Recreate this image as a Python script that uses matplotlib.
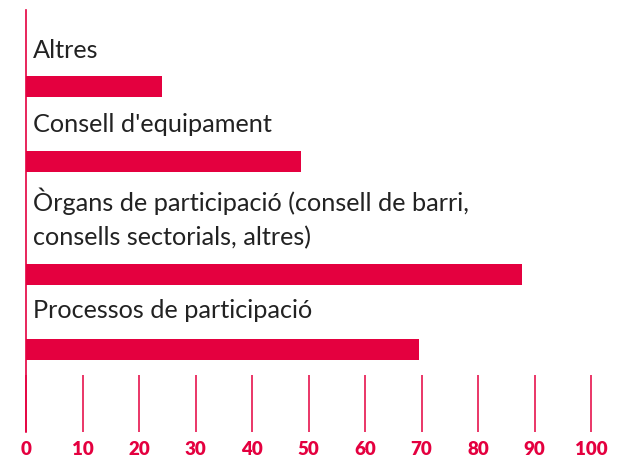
import matplotlib.pyplot as plt

plt.rcParams['font.family'] = ['Lato', 'DejaVu Sans']

labels = ["Altres", "Consell d'equipament",
          "Òrgans de participació (consell de barri,\nconsells sectorials, altres)",
          "Processos de participació"]
values = [24.1, 48.7, 87.8, 69.6]
ticks = [0, 10, 20, 30, 40, 50, 60, 70, 80, 90, 100]

red = '#e4003f'
text_col = '#222222'

# layout: bar centres / label positions (pixel rows from top of the axis line)
bar_y = [76.5, 151.5, 264.5, 339.5]
label_y = [39, 114, 207.5, 300]
bar_h = 21

fig = plt.figure(figsize=(6.17, 4.6), dpi=100)
ax = fig.add_axes([26/617, 27/460, 565/617, 422/460])
ax.set_xlim(0, 100)
ax.set_ylim(422, 0)

ax.barh(bar_y, values, height=bar_h, color=red, zorder=2)
for y, lab in zip(label_y, labels):
    ax.text(1.3, y, lab, va='center', ha='left', fontsize=18.2, color=text_col,
            linespacing=1.55)

for s in ['top', 'right', 'bottom']:
    ax.spines[s].set_visible(False)
ax.spines['left'].set_color(red)
ax.spines['left'].set_linewidth(1.2)
ax.set_yticks([])
ax.set_xticks(ticks)
ax.tick_params(axis='x', direction='in', length=41, width=1.1, color=red,
               labelcolor=red, labelsize=13.5, pad=6)
for t in ax.get_xticklabels():
    t.set_fontweight('heavy')

fig.savefig('out.png', dpi=100)
